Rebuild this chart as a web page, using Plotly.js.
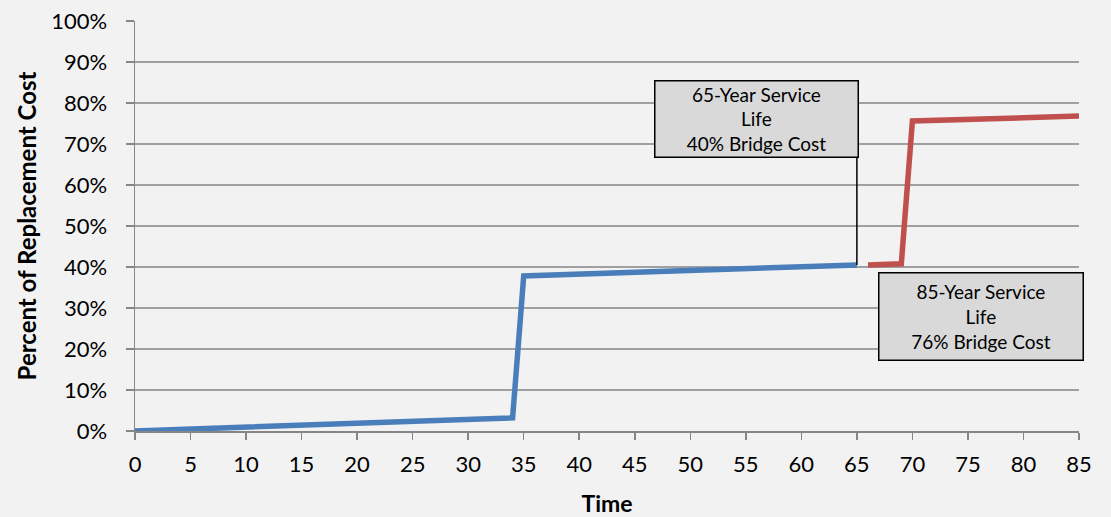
<!DOCTYPE html>
<html>
<head>
<meta charset="utf-8">
<script src="https://cdn.plot.ly/plotly-3.0.1.min.js"></script>
<style>html,body{margin:0;padding:0;background:#f2f2f2;}#chart{width:1111px;height:517px;}</style>
</head>
<body>
<div id="chart"></div>
<script>
// Data (Time in years, value in percent of replacement cost)
var blueTime = [0, 34, 35, 65];
var blueValue = [0, 3.2, 37.8, 40.5];
var redTime = [66, 69, 70, 85];
var redValue = [40.5, 40.8, 75.6, 76.8];
var xTicks = [0,5,10,15,20,25,30,35,40,45,50,55,60,65,70,75,80,85];
var yTicks = [0,10,20,30,40,50,60,70,80,90,100];
var note1 = "65-Year Service<br>Life<br>40% Bridge Cost";
var note2 = "85-Year Service<br>Life<br>76% Bridge Cost";

var font = "Lato, 'Open Sans', sans-serif";

var traces = [
  {x: blueTime, y: blueValue, mode: 'lines', line: {color: '#4a7ebb', width: 5.5}, hoverinfo: 'skip'},
  {x: redTime, y: redValue, mode: 'lines', line: {color: '#c0504d', width: 5.5}, hoverinfo: 'skip'}
];

var b = blueTime.length - 1, r = redTime.length - 1;
var layout = {
  width: 1111, height: 517,
  paper_bgcolor: '#f2f2f2', plot_bgcolor: '#f2f2f2',
  margin: {l: 135, r: 32, t: 21, b: 86},
  showlegend: false,
  font: {family: font, size: 22, color: '#000'},
  xaxis: {
    range: [0, 85], tickvals: xTicks, ticktext: xTicks.map(String),
    showgrid: false, zeroline: false, showline: true, linecolor: '#868686', linewidth: 1.5,
    ticks: 'outside', ticklen: 7, tickcolor: '#868686', tickwidth: 1.5,
    ticklabelstandoff: 6,
    tickfont: {family: font, size: 22},
    title: {text: '<b>Time</b>', font: {family: font, size: 23}, standoff: 22}
  },
  yaxis: {
    range: [0, 100], tickvals: yTicks, ticktext: yTicks.map(function(v){return v + '%';}),
    showgrid: true, gridcolor: '#a0a0a0', gridwidth: 1.5, zeroline: false,
    showline: true, linecolor: '#868686', linewidth: 1.5,
    ticks: 'outside', ticklen: 8, tickcolor: '#868686', tickwidth: 1.5,
    ticklabelstandoff: 14,
    tickfont: {family: font, size: 22},
    title: {text: '<b>Percent of Replacement Cost</b>', font: {family: font, size: 24}, standoff: 8}
  },
  shapes: [
    {type: 'line', xref: 'x', yref: 'y', x0: blueTime[b], x1: blueTime[b], y0: blueValue[b], y1: 75.9,
     line: {color: '#000', width: 1.5}},
    {type: 'line', xref: 'x', yref: 'y', x0: redTime[r] + 0.4, x1: redTime[r] + 0.4, y0: redValue[r], y1: 38.8,
     line: {color: '#000', width: 1.5}}
  ],
  annotations: [
    {xref: 'x', yref: 'y', x: 55.96, y: 76.2, text: note1, showarrow: false,
     bgcolor: '#d9d9d9', bordercolor: '#000', borderwidth: 1.5, borderpad: 2,
     font: {family: font, size: 19}, width: 198, height: 71, align: 'center'},
    {xref: 'x', yref: 'y', x: 76.2, y: 28.0, text: note2, showarrow: false,
     bgcolor: '#d9d9d9', bordercolor: '#000', borderwidth: 1.5, borderpad: 2,
     font: {family: font, size: 19}, width: 199, height: 82, align: 'center'}
  ]
};

Plotly.newPlot('chart', traces, layout, {displayModeBar: false, staticPlot: true});
</script>
</body>
</html>
